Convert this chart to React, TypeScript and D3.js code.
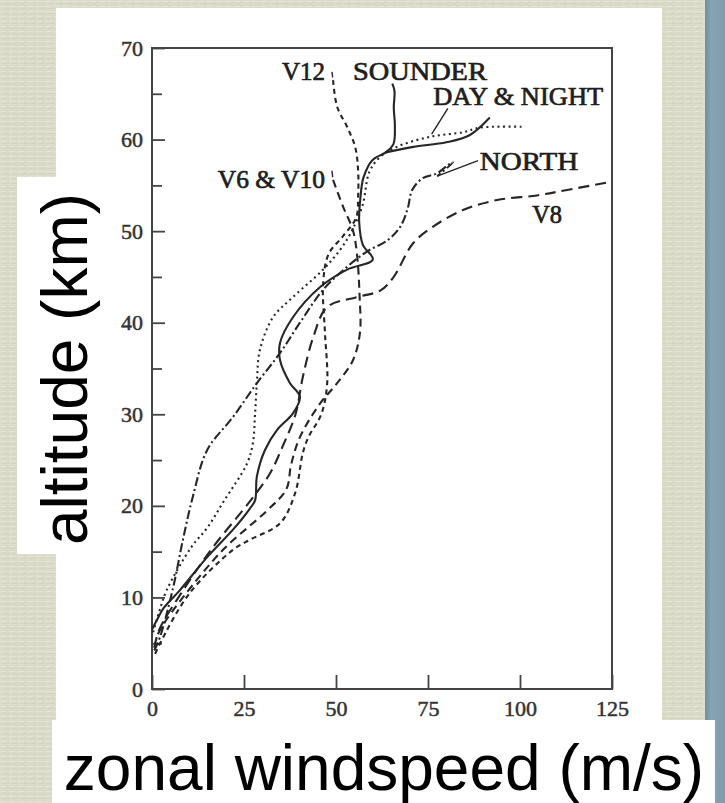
import * as d3 from 'd3';
import { useRef, useEffect } from 'react';

// zonal wind profiles, [speed m/s, altitude km]
const sounder: [number, number][] = [
  [0, 6.5], [1.3, 7.5], [3.1, 8.8], [7.6, 10.8], [15, 14.4], [22, 17.4], [26.4, 19.6], [28, 20.6],
  [28.5, 23.2], [30.7, 26.1], [34, 28.3], [38.3, 30.1], [40.2, 31.9], [37.5, 33.4], [34.8, 35.9],
  [34.8, 37.8], [38.3, 40.6], [45.7, 43.9], [53, 45.8], [60, 46.9], [57.3, 48.5], [56.3, 51],
  [56.6, 53.5], [57.5, 55.9], [60, 57.8], [63.5, 58.6], [65.6, 59.5], [66, 61.5], [65.7, 63.5],
  [65.9, 65.3], [65.3, 66.1],
];
const day: [number, number][] = [
  [63.5, 58.6], [71, 59.2], [80, 59.7], [86.4, 60.5], [91.8, 62.4],
];
const dayNight: [number, number][] = [
  [0.3, 6.2], [2, 8.5], [4, 10.8], [10.7, 15.5], [15, 17.6], [19.5, 20.5], [25.8, 24.6], [27.4, 26.8],
  [28, 30], [28.5, 33.4], [29.3, 37], [32.9, 40.6], [38.3, 42.8], [46.5, 45.8], [51, 47.9], [54, 49.8],
  [57.2, 52.8], [59.1, 56.5], [62, 58.1], [66.5, 59.2], [75.5, 60.3], [84.5, 60.8], [89, 61.3], [100.8, 61.4],
];
const north: [number, number][] = [
  [0.6, 4.2], [2.2, 5.7], [5.7, 11], [8.4, 16.3], [11.1, 21], [15, 26.1], [22, 29.7], [28.5, 33.4],
  [34.8, 36.7], [40.2, 40], [46.5, 43.6], [53, 46.1], [58.5, 47.8], [64, 49], [67.5, 50.5], [69.5, 52.5],
  [70.7, 54.5], [73.6, 55.8], [77.4, 56.3], [80.4, 57.2], [81.8, 57.5], [77.5, 56],
];
const v8: [number, number][] = [
  [0.6, 4.5], [2, 6.5], [8, 10.5], [16.6, 15.5], [26.6, 20.5], [32, 23.5], [35.5, 26.5], [39, 30],
  [41, 34.1], [43.8, 38.4], [47.6, 41.7], [55.7, 42.8], [62, 43.5], [65.5, 44.9], [71, 48.7], [76.4, 50.5],
  [84.5, 52.3], [93.8, 53.4], [104.6, 53.9], [112.8, 54.5], [125, 55.4],
];
const v6v10: [number, number][] = [
  [49.2, 55.6], [52, 52.6], [54.6, 50.1], [55.7, 47.5], [56.4, 43], [56.5, 38.9], [54.6, 35.9], [50.3, 33.4],
  [45.7, 31.2], [40.2, 27.5], [37.8, 24.5], [36.5, 21.8], [31.3, 19.5], [19.3, 15.2], [8.4, 10], [3, 7], [1, 5.5],
];
const v12: [number, number][] = [
  [49.2, 66.5], [50.3, 63.6], [53, 61.4], [55.2, 59.2], [56, 56.7], [56, 53.7], [55.5, 51.5], [52, 49.5],
  [48, 47.5], [46.5, 44.3], [47, 38.9], [47.6, 33.4], [46, 30], [42.5, 27.5], [41, 25.8], [38.9, 21.4],
  [34.8, 18.1], [26.6, 16.3], [22, 15.2], [10.3, 10.5], [2.2, 5], [0.5, 3.5],
];

const xTicks = [0, 25, 50, 75, 100, 125];
const yTicks = [0, 10, 20, 30, 40, 50, 60, 70];
const yMinor = [5, 15, 25, 35, 45, 55, 65];

// curve labels: text, left speed, right speed, baseline altitude
const labelNames = ['V12', 'SOUNDER', 'DAY & NIGHT', 'V6 & V10', 'NORTH', 'V8'];
const labelX0 = [35.3, 54.6, 76.4, 17.9, 89.1, 103.3];
const labelX1 = [47, 91, 122.6, 47, 115.8, 111.4];
const labelY = [66.5, 66.5, 63.8, 54.7, 56.7, 50.9];

// leader lines from labels to curves
const leaders: [number, number][][] = [
  [[48.9, 67.4], [49.1, 66.8]],
  [[48.9, 56.6], [49.1, 55.9]],
  [[80.4, 63.4], [76, 60.6]],
  [[77.5, 56], [88.6, 57.7]],
];

const serif = '"Liberation Serif", "Times New Roman", serif';
const sans = '"Liberation Sans", Arial, sans-serif';

export default function App() {
  const width = 725;
  const height = 803;
  const marginLeft = 152;
  const marginRight = 113;
  const marginTop = 48;
  const marginBottom = 114;

  const gx = useRef<SVGGElement | null>(null);
  const gy = useRef<SVGGElement | null>(null);
  const gy2 = useRef<SVGGElement | null>(null);

  const x = d3.scaleLinear([0, 125], [marginLeft, width - marginRight]);
  const y = d3.scaleLinear([0, 70], [height - marginBottom, marginTop]);
  const line = d3
    .line<[number, number]>((d) => x(d[0]), (d) => y(d[1]))
    .curve(d3.curveCatmullRom.alpha(0.5));

  useEffect(() => {
    const g = d3.select(gx.current);
    g.call(d3.axisBottom(x).tickValues(xTicks).tickSize(-14).tickPadding(11).tickFormat(d3.format('d')));
    g.select('.domain').remove();
    g.selectAll('line').attr('stroke', '#444').attr('stroke-width', 1.8);
    g.selectAll('text')
      .attr('font-family', serif)
      .attr('font-size', 22)
      .attr('fill', '#333')
      .attr('stroke', '#333')
      .attr('stroke-width', 0.5);
  }, []);

  useEffect(() => {
    const g = d3.select(gy.current);
    g.call(d3.axisLeft(y).tickValues(yTicks).tickSize(-13).tickPadding(9).tickFormat(d3.format('d')));
    g.select('.domain').remove();
    g.selectAll('line').attr('stroke', '#444').attr('stroke-width', 1.8);
    g.selectAll('text')
      .attr('font-family', serif)
      .attr('font-size', 22)
      .attr('fill', '#333')
      .attr('stroke', '#333')
      .attr('stroke-width', 0.5);
    const g2 = d3.select(gy2.current);
    g2.call(d3.axisLeft(y).tickValues(yMinor).tickSize(-10).tickFormat(() => ''));
    g2.select('.domain').remove();
    g2.selectAll('line').attr('stroke', '#444').attr('stroke-width', 1.8);
  }, []);

  const series = [
    { data: sounder, dash: 'none' },
    { data: day, dash: 'none' },
    { data: dayNight, dash: '2,3.5' },
    { data: north, dash: '9,3,2,3' },
    { data: v8, dash: '11,6' },
    { data: v6v10, dash: '8,5' },
    { data: v12, dash: '5,4' },
  ];

  return (
    <svg
      width={width}
      height={height}
      style={{ position: 'absolute', left: 0, top: 0, display: 'block' }}
    >
      <defs>
        <pattern id="linen" width="9" height="5" patternUnits="userSpaceOnUse">
          <rect width="9" height="5" fill="#dadcc9" />
          <rect y="1" width="6" height="1" fill="#e3e4d4" />
          <rect x="3" y="3" width="6" height="1" fill="#d3d5c1" />
        </pattern>
        <linearGradient id="edge" x1="0" x2="1">
          <stop offset="0" stopColor="#6f8e9e" />
          <stop offset="0.3" stopColor="#86a3b2" />
          <stop offset="1" stopColor="#7f9cac" />
        </linearGradient>
      </defs>
      <rect width={width} height={height} fill="url(#linen)" />
      <rect x={705} width={20} height={height} fill="url(#edge)" />

      {/* white panels */}
      <rect x={56} y={8} width={606} height={712} fill="#fff" />
      <rect x={17} y={177} width={60} height={377} fill="#fff" />
      <rect x={52} y={720} width={663} height={83} fill="#fff" />

      <g ref={gy2} transform={`translate(${marginLeft},0)`} />
      <g ref={gy} transform={`translate(${marginLeft},0)`} />
      <g ref={gx} transform={`translate(0,${height - marginBottom})`} />
      <rect
        x={x(0)}
        y={y(70)}
        width={x(125) - x(0)}
        height={y(0) - y(70)}
        fill="none"
        stroke="#444"
        strokeWidth={2}
      />

      <g fill="none" stroke="#262626" strokeWidth={2.1}>
        {series.map((s, i) => (
          <path key={i} d={line(s.data) ?? ''} strokeDasharray={s.dash === 'none' ? undefined : s.dash} />
        ))}
        {leaders.map((l, i) => (
          <path key={i} d={d3.line()(l.map((p) => [x(p[0]), y(p[1])])) ?? ''} strokeWidth={1.4} />
        ))}
      </g>

      <g fontFamily={serif} fontSize={26} fill="#1e1e1e" stroke="#1e1e1e" strokeWidth={0.7}>
        {labelNames.map((t, i) => (
          <text
            key={t}
            x={x(labelX0[i])}
            y={y(labelY[i])}
            textLength={x(labelX1[i]) - x(labelX0[i])}
            lengthAdjust="spacingAndGlyphs"
          >
            {t}
          </text>
        ))}
      </g>

      <text
        transform="translate(87,369) rotate(-90)"
        textAnchor="middle"
        fontFamily={sans}
        fontSize={64}
        fill="#000"
      >
        altitude (km)
      </text>
      <text x={384} y={790} textAnchor="middle" fontFamily={sans} fontSize={64} fill="#000">
        zonal windspeed (m/s)
      </text>
    </svg>
  );
}
